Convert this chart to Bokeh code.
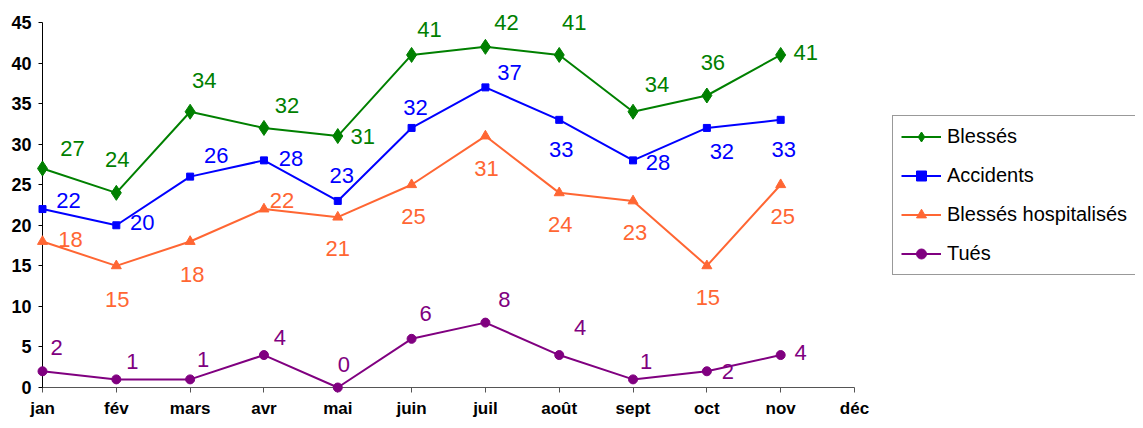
from bokeh.plotting import figure
from bokeh.models import Range1d, FixedTicker, Legend, LegendItem, ColumnDataSource
from bokeh.core.properties import value
from bokeh.embed import file_html
from bokeh.resources import INLINE

months = ["jan", "fév", "mars", "avr", "mai", "juin", "juil", "août", "sept", "oct", "nov", "déc"]
blesses = [27, 24, 34, 32, 31, 41, 42, 41, 34, 36, 41]
accidents = [22, 20, 26, 28, 23, 32, 37, 33, 28, 32, 33]
hospitalises = [18, 15, 18, 22, 21, 25, 31, 24, 23, 15, 25]
tues = [2, 1, 1, 4, 0, 6, 8, 4, 1, 2, 4]
y_ticks = [0, 5, 10, 15, 20, 25, 30, 35, 40, 45]

# label offsets (screen px) for the data labels
off_blesses = [(30, -20), (1, -33), (14, -31), (23, -22), (25, 0), (18, -25), (21, -24), (15, -32), (24, -27), (6, -33), (25, -2)]
off_accidents = [(26, -9), (26, -3), (26, -21), (27, -2), (4, -25), (4, -20), (24, -15), (2, 30), (25, 2), (15, 24), (3, 30)]
off_hosp = [(28, -2), (1, 34), (2, 33), (18, -9), (0, 31), (2, 32), (1, 32), (1, 32), (2, 32), (1, 32), (2, 32)]
off_tues = [(14, -24), (16, -18), (13, -20), (16, -18), (6, -23), (14, -25), (19, -23), (21, -28), (13, -18), (21, 0), (20, -3)]

LBL_FONT = "Liberation Sans, Arial, sans-serif"
AX_FONT = "Liberation Sans, Arial, sans-serif"

W, H = 1135, 420
LEFT, TOP, BOTTOM = 42, 22, 32
AXIS_PX = 812  # pixel length of the jan..déc axis
n_int = len(months) - 1
x_end = n_int * (W - LEFT) / AXIS_PX

p = figure(width=W, height=H, output_backend="svg", toolbar_location=None,
           x_range=Range1d(0, x_end), y_range=Range1d(0, 45),
           min_border_left=LEFT, min_border_top=TOP, min_border_bottom=BOTTOM, min_border_right=0)
p.outline_line_color = None
p.xgrid.visible = False
p.ygrid.visible = False
p.background_fill_color = "white"

series = [
    ("Blessés", blesses, "#008000", "diamond", 15, off_blesses),
    ("Accidents", accidents, "#0000FF", "square", 7, off_accidents),
    ("Blessés hospitalisés", hospitalises, "#FF6633", "triangle", 10, off_hosp),
    ("Tués", tues, "#800080", "circle", 9, off_tues),
]

items = []
for name, vals, color, marker, size, offs in series:
    xs = list(range(len(vals)))
    src = ColumnDataSource(dict(x=xs, y=vals, t=[str(v) for v in vals],
                                dx=[o[0] for o in offs], dy=[o[1] for o in offs]))
    lr = p.line("x", "y", source=src, line_color=color, line_width=2, level="annotation")
    mr = p.scatter("x", "y", source=src, marker=marker, size=size,
                   fill_color=color, line_color=color, level="annotation")
    p.text("x", "y", text="t", source=src, x_offset="dx", y_offset="dy",
           text_align="center", text_baseline="middle", text_color=color,
           text_font=value(LBL_FONT), text_font_size="22px", level="annotation")
    items.append(LegendItem(label=name, renderers=[lr, mr]))

legend = Legend(items=items, location=(850, 112), orientation="vertical",
                label_text_font=LBL_FONT, label_text_font_size="20px", label_text_color="black",
                glyph_width=40, glyph_height=25, label_height=25, spacing=14, padding=8,
                label_standoff=6, margin=0, border_line_color="#333333", border_line_width=1,
                background_fill_color="white", background_fill_alpha=1.0)
p.add_layout(legend, "center")

p.yaxis.ticker = FixedTicker(ticks=y_ticks)
p.yaxis.major_label_text_font = AX_FONT
p.yaxis.major_label_text_font_style = "bold"
p.yaxis.major_label_text_font_size = "18px"
p.yaxis.major_label_text_color = "black"
p.yaxis.major_tick_out = 4
p.yaxis.major_tick_in = 0
p.yaxis.minor_tick_line_color = None
p.yaxis.major_label_standoff = 7
p.yaxis.axis_line_color = "black"
p.yaxis.major_tick_line_color = "black"

p.xaxis.ticker = FixedTicker(ticks=list(range(len(months))))
p.xaxis.bounds = (0, n_int)
p.xaxis.major_label_overrides = {i: m for i, m in enumerate(months)}
p.xaxis.major_label_text_font = AX_FONT
p.xaxis.major_label_text_font_style = "bold"
p.xaxis.major_label_text_font_size = "17px"
p.xaxis.major_label_text_color = "black"
p.xaxis.major_tick_out = 5
p.xaxis.major_tick_in = 0
p.xaxis.minor_tick_line_color = None
p.xaxis.major_label_standoff = 6
p.xaxis.axis_line_color = "#555555"
p.xaxis.major_tick_line_color = "#555555"

open("out.html", "w").write(file_html(p, INLINE))
